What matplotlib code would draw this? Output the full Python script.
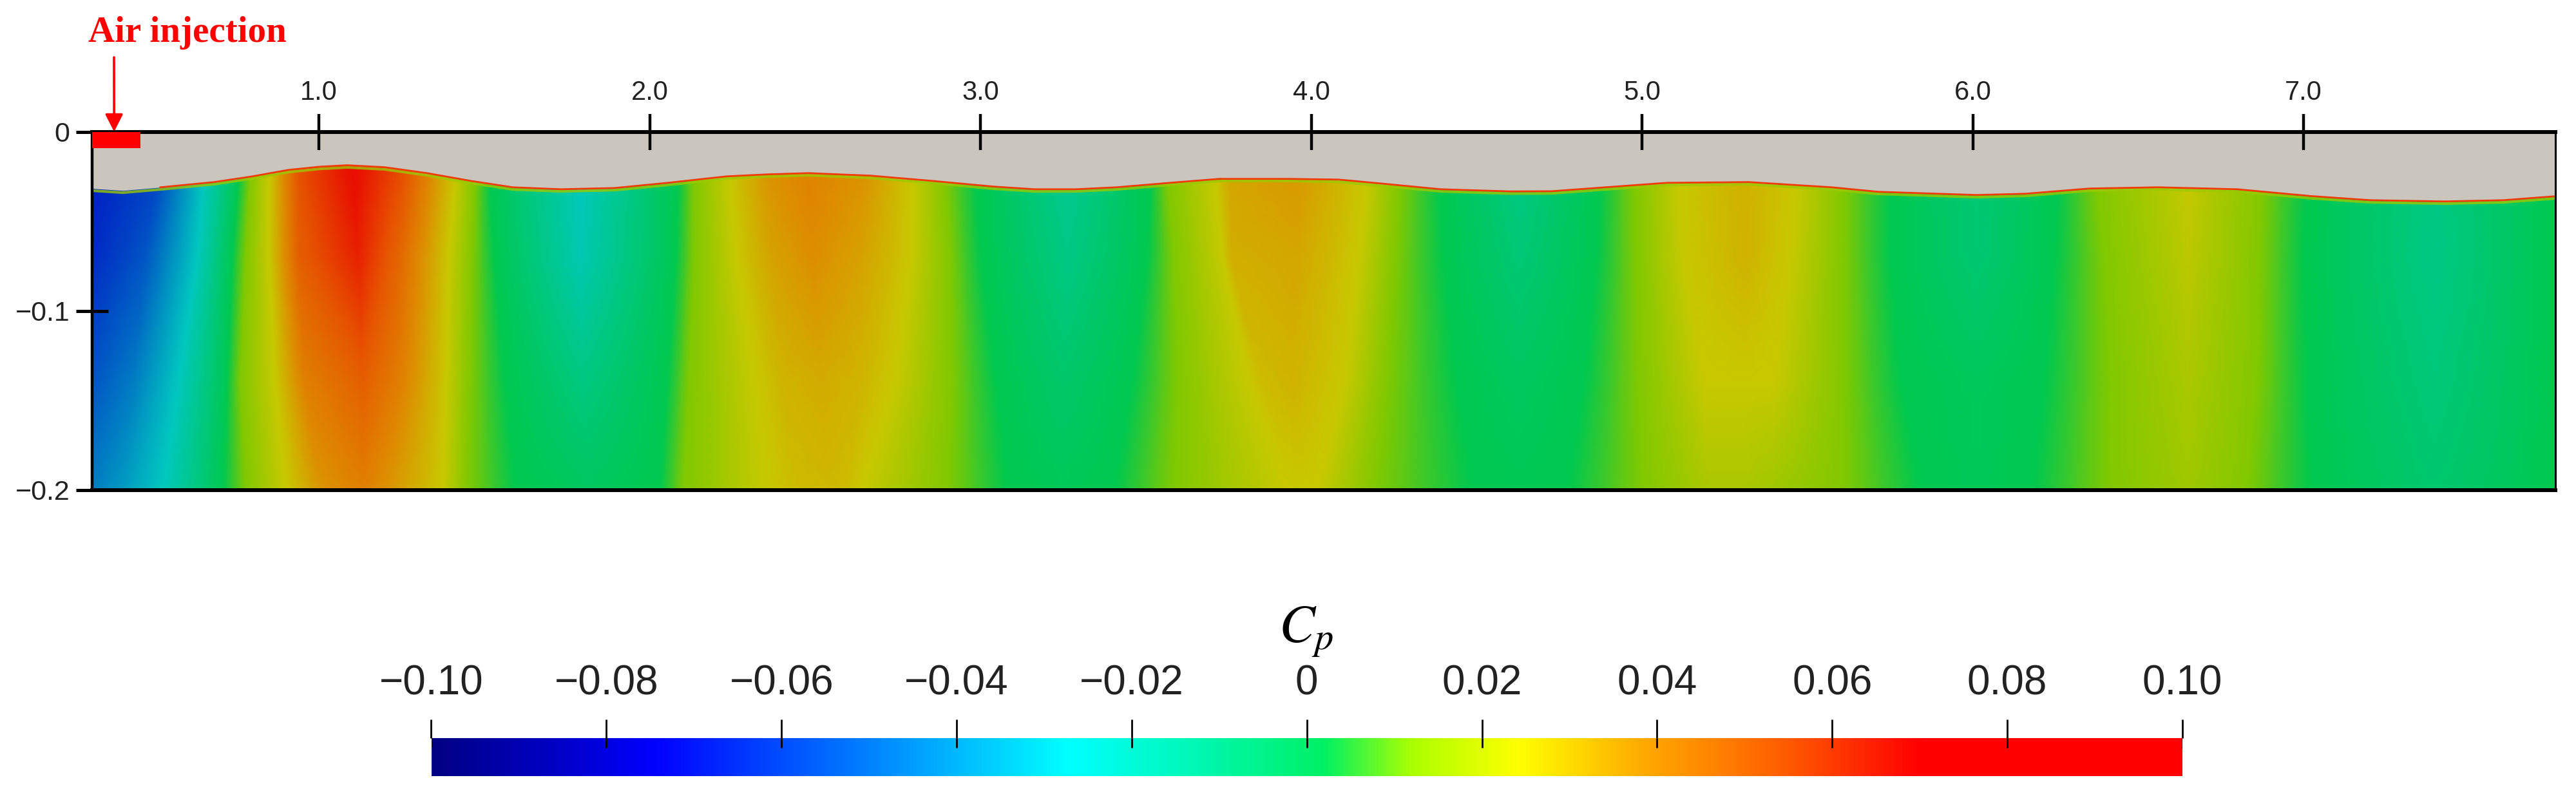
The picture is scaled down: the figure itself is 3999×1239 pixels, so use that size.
#!/usr/bin/env python3
"""Cp contour below the free surface with air injection, and its colour bar."""

import matplotlib
matplotlib.use('Agg')
import matplotlib.pyplot as plt
import numpy as np
from matplotlib.colors import LinearSegmentedColormap, Normalize
from matplotlib.cm import ScalarMappable
from matplotlib.patches import Rectangle

matplotlib.rcParams['font.family'] = ['Liberation Sans', 'DejaVu Sans']
matplotlib.rcParams['mathtext.fontset'] = 'stix'

# free surface
surface_x = [0.3145, 0.408, 0.521, 0.683, 0.796, 0.908, 1.004, 1.086, 1.199, 1.327, 1.458, 1.586,
             1.732, 1.894, 2.055, 2.233, 2.355, 2.480, 2.667, 2.852, 3.039, 3.164, 3.288, 3.411,
             3.573, 3.722, 3.931, 4.083, 4.206, 4.392, 4.603, 4.727, 4.889, 5.076, 5.323, 5.573,
             5.713, 6.011, 6.159, 6.352, 6.560, 6.799, 7.022, 7.201, 7.425, 7.604, 7.761]
surface_y = [-0.0317, -0.0328, -0.0310, -0.0281, -0.0250, -0.0213, -0.0195, -0.0187, -0.0198,
             -0.0231, -0.0274, -0.0310, -0.0321, -0.0314, -0.0285, -0.0249, -0.0238, -0.0231,
             -0.0245, -0.0274, -0.0306, -0.0321, -0.0321, -0.0310, -0.0285, -0.0263, -0.0263,
             -0.0267, -0.0288, -0.0321, -0.0333, -0.0332, -0.0310, -0.0285, -0.0281, -0.0310,
             -0.0335, -0.0353, -0.0346, -0.0317, -0.0310, -0.0321, -0.0359, -0.0382, -0.0389,
             -0.0382, -0.0360]

# Cp read at four depths, the stations follow the tilted bands
row_depth = [-0.015, -0.07, -0.139, -0.2]
x_row1 = [0.3145, 0.520, 0.658, 0.755, 0.795, 0.851, 0.940, 1.102, 1.263, 1.417, 1.473, 1.513,
          1.788, 2.087, 2.135, 2.238, 2.356, 2.480, 2.654, 2.796, 2.890, 2.983, 3.262, 3.517,
          3.560, 3.703, 3.758, 3.957, 4.175, 4.268, 4.386, 4.628, 4.876, 4.976, 5.112, 5.311,
          5.472, 5.609, 5.749, 6.010, 6.263, 6.367, 6.650, 6.874, 7.008, 7.395, 7.761]
x_row2 = [0.3145, 0.472, 0.633, 0.730, 0.779, 0.851, 0.940, 1.118, 1.239, 1.392, 1.465, 1.530,
          1.788, 2.079, 2.135, 2.262, 2.368, 2.492, 2.641, 2.790, 2.908, 3.001, 3.262, 3.504,
          3.585, 3.734, 3.758, 3.957, 4.143, 4.255, 4.398, 4.628, 4.864, 4.982, 5.125, 5.311,
          5.447, 5.609, 5.749, 6.010, 6.248, 6.397, 6.650, 6.866, 7.000, 7.395, 7.761]
x_row3 = [0.3145, 0.440, 0.577, 0.714, 0.763, 0.868, 0.956, 1.134, 1.247, 1.384, 1.457, 1.562,
          1.796, 2.054, 2.119, 2.318, 2.405, 2.517, 2.629, 2.741, 2.914, 3.045, 3.250, 3.461,
          3.597, 3.809, 3.850, 3.939, 4.100, 4.230, 4.435, 4.628, 4.827, 4.988, 5.187, 5.311,
          5.398, 5.609, 5.779, 6.010, 6.218, 6.412, 6.650, 6.859, 7.008, 7.395, 7.761]
x_row4 = [0.3145, 0.407, 0.528, 0.698, 0.779, 0.900, 1.005, 1.134, 1.215, 1.376, 1.449, 1.594,
          1.812, 2.030, 2.103, 2.356, 2.443, 2.542, 2.592, 2.641, 2.902, 3.082, 3.250, 3.405,
          3.585, 3.920, 3.950, 3.980, 4.019, 4.193, 4.485, 4.628, 4.777, 5.000, 5.200, 5.311,
          5.398, 5.609, 5.839, 6.010, 6.181, 6.412, 6.650, 6.829, 7.022, 7.395, 7.761]
cp_row1 = [-0.070, -0.060, -0.027, 0.000, 0.012, 0.024, 0.056, 0.072, 0.056, 0.024, 0.012, 0.002,
           -0.027, 0.002, 0.012, 0.024, 0.037, 0.042, 0.037, 0.024, 0.012, 0.002, -0.016, 0.002,
           0.012, 0.024, 0.033, 0.036, 0.024, 0.012, 0.002, -0.012, 0.002, 0.012, 0.024, 0.030,
           0.024, 0.012, 0.002, -0.008, 0.002, 0.012, 0.024, 0.012, 0.002, -0.011, 0.002]
cp_row2 = [-0.066, -0.055, -0.027, 0.000, 0.012, 0.024, 0.052, 0.066, 0.050, 0.024, 0.012, 0.002,
           -0.024, 0.002, 0.012, 0.024, 0.033, 0.038, 0.033, 0.024, 0.012, 0.002, -0.012, 0.002,
           0.012, 0.024, 0.030, 0.032, 0.024, 0.012, 0.002, -0.008, 0.002, 0.012, 0.024, 0.029,
           0.024, 0.012, 0.002, -0.007, 0.002, 0.012, 0.022, 0.012, 0.002, -0.012, 0.002]
cp_row3 = [-0.055, -0.045, -0.027, 0.000, 0.012, 0.024, 0.042, 0.052, 0.042, 0.024, 0.012, 0.002,
           -0.011, 0.002, 0.012, 0.024, 0.029, 0.031, 0.029, 0.024, 0.012, 0.002, -0.005, 0.002,
           0.012, 0.024, 0.027, 0.029, 0.024, 0.012, 0.002, -0.002, 0.002, 0.012, 0.024, 0.024,
           0.024, 0.012, 0.002, -0.001, 0.002, 0.012, 0.019, 0.012, 0.002, -0.009, 0.002]
cp_row4 = [-0.045, -0.038, -0.027, 0.000, 0.012, 0.024, 0.036, 0.042, 0.036, 0.024, 0.012, 0.002,
           -0.002, 0.002, 0.012, 0.024, 0.027, 0.028, 0.027, 0.024, 0.012, 0.002, 0.000, 0.002,
           0.012, 0.024, 0.024, 0.024, 0.024, 0.012, 0.002, 0.001, 0.002, 0.012, 0.019, 0.019,
           0.017, 0.012, 0.002, 0.000, 0.002, 0.012, 0.017, 0.012, 0.002, -0.006, 0.002]

x_ticks = [1, 2, 3, 4, 5, 6, 7]
x_tick_labels = ['1.0', '2.0', '3.0', '4.0', '5.0', '6.0', '7.0']
y_ticks = [0, -0.1, -0.2]
y_tick_labels = ['0', '\u22120.1', '\u22120.2']
cbar_ticks = [-0.10, -0.08, -0.06, -0.04, -0.02, 0, 0.02, 0.04, 0.06, 0.08, 0.10]
cbar_tick_labels = ['\u22120.10', '\u22120.08', '\u22120.06', '\u22120.04', '\u22120.02', '0',
                    '0.02', '0.04', '0.06', '0.08', '0.10']

# colour scale as on the bar, and the same scale as it looks in the lit field
scale_cp = [-0.10, -0.0745, -0.05, -0.0273, 0.002, 0.012, 0.0242, 0.0385, 0.055, 0.07, 0.10]
bar_rgb = [(0, 0, 130), (0, 0, 255), (0, 130, 255), (0, 255, 255), (0, 240, 100), (170, 255, 0),
           (255, 255, 0), (255, 170, 0), (255, 90, 0), (255, 0, 0), (255, 0, 0)]
field_rgb = [(0, 0, 110), (0, 10, 195), (0, 105, 195), (0, 200, 190), (0, 200, 80), (130, 200, 0),
             (200, 200, 0), (222, 140, 0), (230, 85, 0), (232, 15, 0), (232, 0, 0)]

W, H = 3999, 1239


def make_cmap(name, rgb_list):
    pos = [(v + 0.10) / 0.20 for v in scale_cp]
    cols = [tuple(c / 255 for c in rgb) for rgb in rgb_list]
    return LinearSegmentedColormap.from_list(name, list(zip(pos, cols)), N=512)


def pixel_axes(fig, left, top, right, bottom):
    return fig.add_axes([left / W, 1 - bottom / H, (right - left) / W, (bottom - top) / H])


def refine(grid, n_row=12, n_col=6):
    # finer mesh between the read values so gouraud shows no triangle seams
    nr, nc = grid.shape
    rows = np.linspace(0, nr - 1, (nr - 1) * n_row + 1)
    cols = np.linspace(0, nc - 1, (nc - 1) * n_col + 1)
    by_col = np.array([np.interp(rows, np.arange(nr), grid[:, j]) for j in range(nc)]).T
    return np.array([np.interp(cols, np.arange(nc), r) for r in by_col])


fig = plt.figure(figsize=(W / 100, H / 100), dpi=100, facecolor='white')
norm = Normalize(-0.10, 0.10)

# contour panel
ax = pixel_axes(fig, 143, 204.5, 3967, 761)
X = np.array([x_row1, x_row2, x_row3, x_row4])
Y = np.tile(np.array(row_depth)[:, None], (1, X.shape[1]))
C = np.array([cp_row1, cp_row2, cp_row3, cp_row4])
ax.pcolormesh(refine(X), refine(Y), refine(C), shading='gouraud',
              cmap=make_cmap('field', field_rgb), norm=norm)

sx = np.array(surface_x)
sy = np.array(surface_y)
ax.fill_between(sx, sy, 0, color='#cac6be', lw=0, zorder=2)
# thin mixed band along the interface
ax.plot(sx, sy - 0.0012, color='#9cc800', lw=3.0, alpha=0.8, zorder=2.1)
red = sx >= 0.52
ax.plot(sx[red], sy[red], color='#f03c0a', lw=2.0, zorder=2.2)

ax.add_patch(Rectangle((0.3145, -0.0092), 0.146, 0.0092, color='#ff0000', lw=0, zorder=3))

ax.set_xlim(0.3145, 7.761)
ax.set_ylim(-0.2, 0)
ax.set_axisbelow(False)
ax.set_xticks(x_ticks)
ax.set_xticklabels(x_tick_labels, fontsize=30, color='#222222')
ax.set_yticks(y_ticks)
ax.set_yticklabels(y_tick_labels, fontsize=31, color='#222222')
ax.tick_params(axis='x', top=True, labeltop=True, bottom=False, labelbottom=False,
               direction='inout', length=41, width=3.2, pad=9)
ax.tick_params(axis='y', direction='inout', length=36, width=3.6, pad=7)
ax.spines['top'].set_linewidth(4.3)
ax.spines['bottom'].set_linewidth(4.3)
ax.spines['left'].set_linewidth(3.2)
ax.spines['right'].set_linewidth(2.2)

# air injection mark
fig.text(137 / W, 1 - 51 / H, 'Air injection', color='#ff0000', fontsize=41, fontweight='bold',
         family=['Liberation Serif', 'DejaVu Serif'], va='center', ha='left')
ax.annotate('', xy=(0.381, 0), xycoords='data',
            xytext=(177 / W, 1 - 89 / H), textcoords='figure fraction',
            arrowprops=dict(arrowstyle='-|>,head_length=0.55,head_width=0.28', mutation_scale=30,
                            color='#ff0000', lw=2.6, shrinkA=0, shrinkB=0))

# colour bar
cax = pixel_axes(fig, 669.5, 1146, 3388, 1205)
cbar = fig.colorbar(ScalarMappable(norm=norm, cmap=make_cmap('bar', bar_rgb)), cax=cax,
                    orientation='horizontal')
cbar.outline.set_visible(False)
cbar.set_ticks(cbar_ticks)
cbar.set_ticklabels(cbar_tick_labels)
cax.xaxis.set_ticks_position('top')
cax.tick_params(axis='x', direction='out', length=21, width=2, pad=18, labelsize=46,
                labelcolor='#222222')
cax.vlines(cbar_ticks, 0.75, 1, transform=cax.get_xaxis_transform(), colors='black', lw=2)

fig.text(2028 / W, 1 - 998 / H, r'$C_p$', fontsize=60, ha='center', va='baseline', color='black')

fig.savefig('out.png', dpi=100, facecolor='white')
plt.close(fig)
